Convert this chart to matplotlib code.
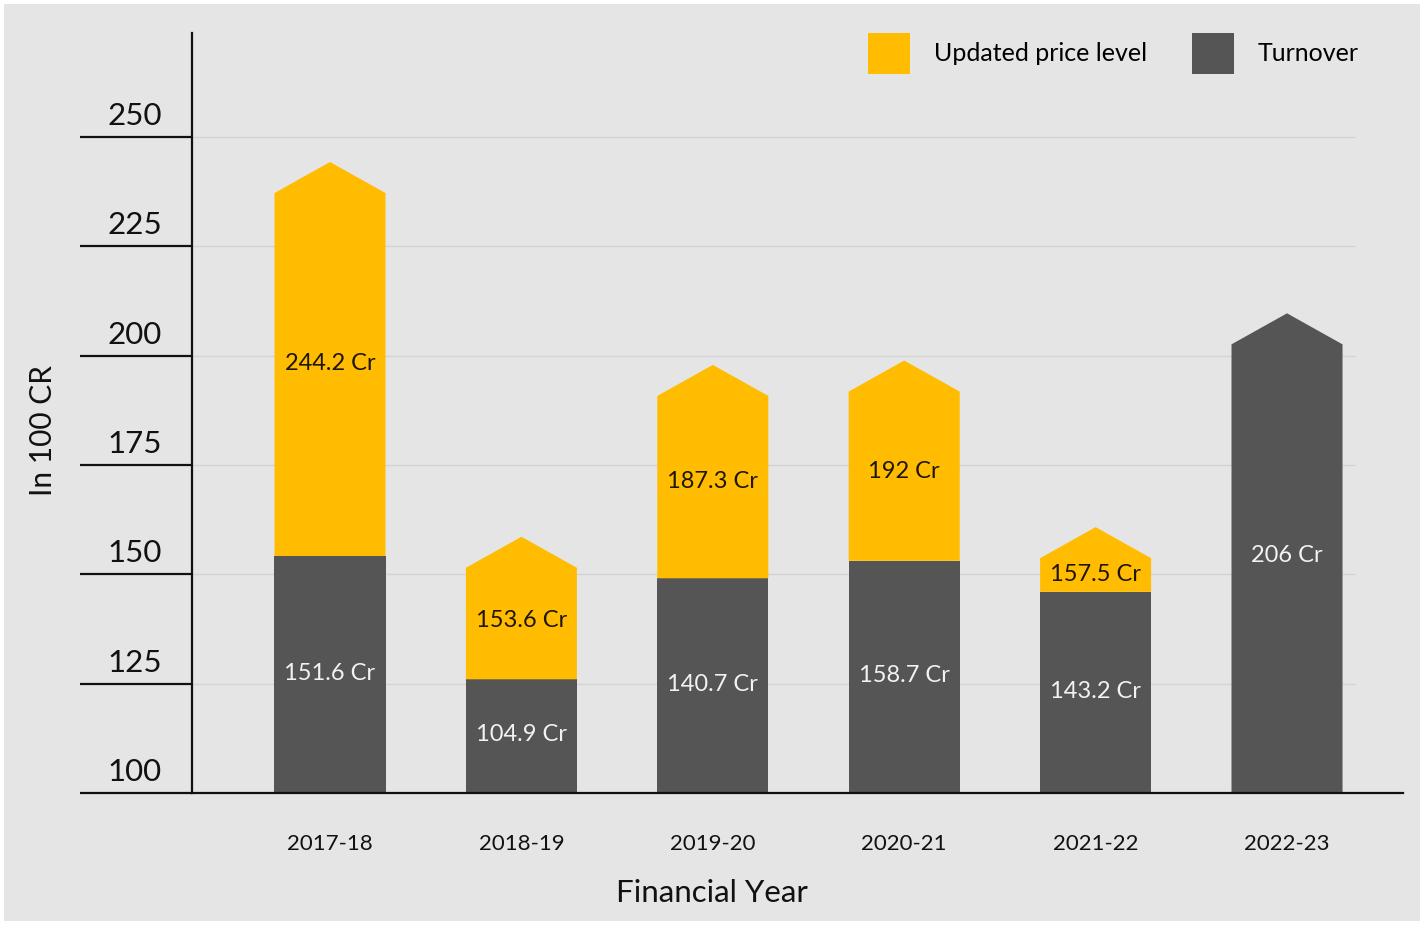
import numpy as np
import matplotlib
matplotlib.use("Agg")
import matplotlib.pyplot as plt
from matplotlib.patches import Polygon, Patch, Rectangle

plt.rcParams['font.family'] = ['Lato', 'DejaVu Sans']

# ---- data ----
years = ['2017-18', '2018-19', '2019-20', '2020-21', '2021-22', '2022-23']
# drawn heights as they appear on the picture (y axis units)
turnover_top = [154.2, 126.0, 149.1, 153.1, 146.0, 209.7]
price_level_top = [244.3, 158.6, 197.9, 198.9, 160.8, np.nan]
# printed values
turnover_values = [151.6, 104.9, 140.7, 158.7, 143.2, 206]
price_level_values = [244.2, 153.6, 187.3, 192, 157.5, np.nan]
y_ticks = [100, 125, 150, 175, 200, 225, 250]

YELLOW = '#FFBC00'
GRAY = '#555555'
BG = '#E5E5E5'
GRID = '#D3D3D3'

W, H = 1427, 925
fig = plt.figure(figsize=(W / 100, H / 100), dpi=100, facecolor='white')
fig.patches.append(Rectangle((4 / W, 4 / H), (1420 - 4) / W, (921 - 4) / H,
                             transform=fig.transFigure, facecolor=BG,
                             edgecolor='none', zorder=-10))

ax_left, ax_right, ax_top, ax_bot = 192, 1403, 33, 793
ax = fig.add_axes([ax_left / W, 1 - ax_bot / H, (ax_right - ax_left) / W,
                   (ax_bot - ax_top) / H])
ax.set_facecolor('none')

x = np.arange(len(years))
bar_w = 0.58
head = 7.1  # arrow head height in axis units
ymin = 100
label_frac = 0.53

ax.set_xlim(-0.721, len(years) - 1 + 0.606)
ax.set_ylim(ymin, 273.8)

# grid lines
ax.hlines(y_ticks[1:], ax.get_xlim()[0], len(years) - 1 + 0.355,
          color=GRID, lw=1.0, zorder=0)


def arrow_bar(xc, bottom, top, color):
    hw = bar_w / 2
    shoulder = top - head
    pts = [(xc - hw, bottom), (xc + hw, bottom), (xc + hw, shoulder),
           (xc, top), (xc - hw, shoulder)]
    ax.add_patch(Polygon(pts, closed=True, facecolor=color, edgecolor='none',
                         zorder=2))
    return shoulder


for i, xc in enumerate(x):
    t = turnover_top[i]
    p = price_level_top[i]
    if np.isnan(p):
        sh = arrow_bar(xc, ymin, t, GRAY)
        ax.text(xc, ymin + label_frac * (sh - ymin), f"{turnover_values[i]:g} Cr",
                ha='center', va='center', color='#F2F2F2', fontsize=17, zorder=3)
    else:
        ax.bar(xc, t - ymin, bottom=ymin, width=bar_w, color=GRAY, zorder=2)
        sh = arrow_bar(xc, t, p, YELLOW)
        ax.text(xc, (ymin + t) / 2 + 0.3, f"{turnover_values[i]:g} Cr",
                ha='center', va='center', color='#F2F2F2', fontsize=17, zorder=3)
        ax.text(xc, t + label_frac * (sh - t), f"{price_level_values[i]:g} Cr",
                ha='center', va='center', color='#1E1606', fontsize=17, zorder=3)

# axes styling
for s in ['top', 'right']:
    ax.spines[s].set_visible(False)
ax.spines['left'].set_linewidth(1.6)
ax.spines['bottom'].set_linewidth(1.6)
ax.spines['left'].set_color('#111111')
ax.spines['bottom'].set_color('#111111')

ax.set_yticks(y_ticks)
ax.tick_params(axis='y', direction='out', length=(ax_left - 80) * 0.72,
               width=1.6, color='#111111', labelleft=False)
for v in y_ticks:
    ax.annotate(str(v), xy=(0, v), xycoords=('axes fraction', 'data'),
                xytext=(-57 * 0.72, 21 * 0.72), textcoords='offset points',
                ha='center', va='center', fontsize=22.5, color='#111111')

ax.set_xticks(x)
ax.set_xticklabels(years, fontsize=16, color='#111111')
ax.tick_params(axis='x', length=0, pad=41 * 0.72)

ax.set_xlabel('Financial Year', fontsize=22.5, color='#111111')
ax.xaxis.set_label_coords((712 - ax_left) / (ax_right - ax_left),
                          -(893 - ax_bot) / (ax_bot - ax_top))
ax.xaxis.label.set_va('center')
ax.set_ylabel('In 100 CR', fontsize=21.5, color='#111111')
ax.yaxis.set_label_coords((43 - ax_left) / (ax_right - ax_left),
                          (ax_bot - 431) / (ax_bot - ax_top))
ax.yaxis.label.set_va('center')

handles = [Patch(facecolor=YELLOW, edgecolor='none', label='Updated price level'),
           Patch(facecolor=GRAY, edgecolor='none', label='Turnover')]
fs = 18
em = fs / 0.72
hh_pt = 41 * 0.72
fig.legend(handles=handles, loc='upper left',
           bbox_to_anchor=(868 / W, 1 - 33 / H), ncol=2, frameon=False,
           fontsize=fs, handlelength=42 / em,
           handleheight=(hh_pt / fs - 0.245) / 0.65,
           handletextpad=24 / em, columnspacing=45 / em, borderpad=0,
           borderaxespad=0)

fig.savefig('out.png', dpi=100, facecolor='white')
